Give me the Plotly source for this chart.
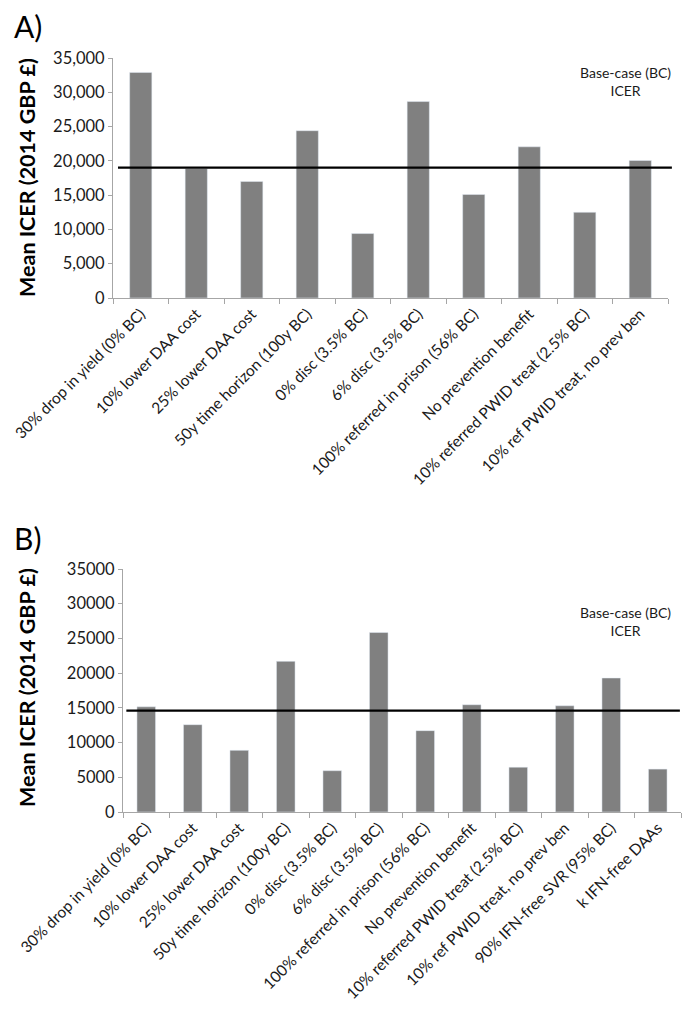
import plotly.graph_objects as go

# ---- data ----
cats_a = ["30% drop in yield (0% BC)", "10% lower DAA cost", "25% lower DAA cost",
          "50y time horizon (100y BC)", "0% disc (3.5% BC)", "6% disc (3.5% BC)",
          "100% referred in prison (56% BC)", "No prevention benefit",
          "10% referred PWID treat (2.5% BC)", "10% ref PWID treat, no prev ben"]
vals_a = [32900, 18900, 17000, 24400, 9400, 28650, 15100, 22050, 12500, 20050]
bc_icer_a = 19000

cats_b = cats_a + ["90% IFN-free SVR (95% BC)", "k IFN-free DAAs"]
vals_b = [15150, 12580, 8880, 21700, 5950, 25850, 11720, 15450, 6450, 15300, 19300, 6180]
bc_icer_b = 14600

yticks = [0, 5000, 10000, 15000, 20000, 25000, 30000, 35000]
yticktext_a = ["0", "5,000", "10,000", "15,000", "20,000", "25,000", "30,000", "35,000"]
yticktext_b = ["0", "5000", "10000", "15000", "20000", "25000", "30000", "35000"]

# page has an 8px body margin; size the figure to fit the window inside it
OFF = 8
W, H = 691 - OFF, 1021 - OFF
FONT = "Lato"
BAR = "#808080"
AX = "#a6a6a6"

fig = go.Figure()
fig.add_trace(go.Bar(x=cats_a, y=vals_a, marker_color=BAR, width=0.4,
                     xaxis="x", yaxis="y", showlegend=False))
fig.add_trace(go.Bar(x=cats_b, y=vals_b, marker_color=BAR, width=0.4,
                     xaxis="x2", yaxis="y2", showlegend=False))

def px_x(p):
    return (p - OFF) / W

def px_y(p):
    return 1 - (p - OFF) / H

common_x = dict(showline=True, linecolor=AX, linewidth=1, ticks="outside",
                tickson="boundaries", ticklen=5, tickcolor=AX, tickangle=-45,
                tickfont=dict(family=FONT, size=15.5, color="#1a1a1a"),
                showgrid=False, zeroline=False, fixedrange=True, automargin=False)
common_y = dict(showline=True, linecolor=AX, linewidth=1, ticks="outside",
                ticklen=4, tickcolor=AX, range=[0, 35000], tickvals=yticks,
                tickfont=dict(family=FONT, size=16.5, color="#1a1a1a"),
                showgrid=False, zeroline=False, fixedrange=True, automargin=False)

fig.update_layout(
    width=W, height=H, margin=dict(l=0, r=0, t=0, b=0, autoexpand=False),
    plot_bgcolor="white", paper_bgcolor="white", bargap=0.6,
    xaxis=dict(domain=[px_x(113), px_x(668)], anchor="y", **common_x),
    yaxis=dict(domain=[px_y(298), px_y(58)], anchor="x", ticktext=yticktext_a, **common_y),
    xaxis2=dict(domain=[px_x(123), px_x(681)], anchor="y2", **common_x),
    yaxis2=dict(domain=[px_y(812), px_y(569)], anchor="x2", ticktext=yticktext_b, **common_y),
)

# base-case reference lines
fig.add_shape(type="line", xref="x domain", yref="y", x0=0.009, x1=1.007,
              y0=bc_icer_a, y1=bc_icer_a, line=dict(color="black", width=2.2))
fig.add_shape(type="line", xref="x2 domain", yref="y2", x0=0.006, x1=0.998,
              y0=bc_icer_b, y1=bc_icer_b, line=dict(color="black", width=2.2))

annots = [
    dict(text="A)", x=px_x(12), y=px_y(26), xanchor="left", yanchor="middle",
         font=dict(family=FONT, size=30, color="black")),
    dict(text="B)", x=px_x(12), y=px_y(538), xanchor="left", yanchor="middle",
         font=dict(family=FONT, size=30, color="black")),
    dict(text="Mean ICER (2014 GBP £)", x=px_x(27), y=px_y(178), textangle=-90,
         xanchor="center", yanchor="middle",
         font=dict(family=FONT, size=21.5, color="black", weight="bold")),
    dict(text="Mean ICER (2014 GBP £)", x=px_x(27), y=px_y(688), textangle=-90,
         xanchor="center", yanchor="middle",
         font=dict(family=FONT, size=21.5, color="black", weight="bold")),
    dict(text="Base-case (BC)<br>ICER", x=px_x(625), y=px_y(81), xanchor="center",
         yanchor="middle", font=dict(family=FONT, size=14, color="#1a1a1a")),
    dict(text="Base-case (BC)<br>ICER", x=px_x(625), y=px_y(621), xanchor="center",
         yanchor="middle", font=dict(family=FONT, size=14, color="#1a1a1a")),
]
for a in annots:
    fig.add_annotation(xref="paper", yref="paper", showarrow=False, **a)

fig.write_html("out.html")
